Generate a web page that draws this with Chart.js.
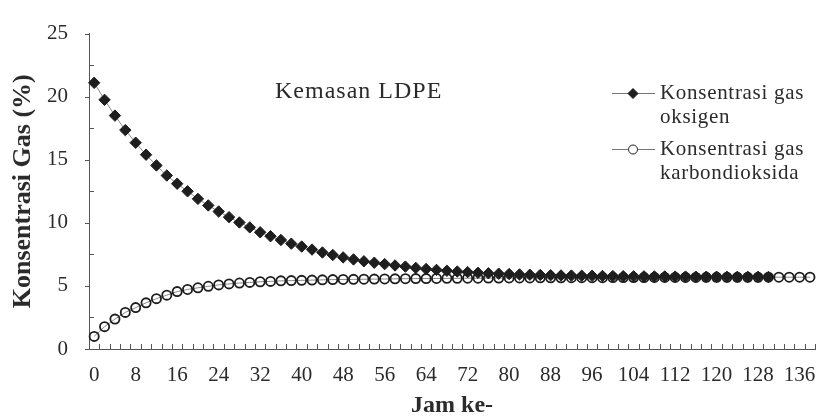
<!DOCTYPE html>
<html>
<head>
<meta charset="utf-8">
<script src="https://cdn.jsdelivr.net/npm/chart.js@4/dist/chart.umd.min.js"></script>
<style>
  html, body { margin: 0; padding: 0; background: #fff; }
  #wrap { width: 824px; height: 420px; }
</style>
</head>
<body>
<div id="wrap"><canvas id="c" width="824" height="420"></canvas></div>
<script>
// Hours of storage (category axis, every 2 hours)
const hours = [0, 2, 4, 6, 8, 10, 12, 14, 16, 18, 20, 22, 24, 26, 28, 30, 32, 34, 36, 38,
  40, 42, 44, 46, 48, 50, 52, 54, 56, 58, 60, 62, 64, 66, 68, 70, 72, 74, 76, 78,
  80, 82, 84, 86, 88, 90, 92, 94, 96, 98, 100, 102, 104, 106, 108, 110, 112, 114, 116, 118,
  120, 122, 124, 126, 128, 130, 132, 134, 136, 138];

// Oxygen concentration (%), 0–130 h
const oksigen = [21.1, 19.75, 18.5, 17.35, 16.35, 15.4, 14.55, 13.75, 13.1, 12.5,
  11.9, 11.38, 10.9, 10.45, 10.03, 9.64, 9.25, 8.94, 8.64, 8.35,
  8.12, 7.88, 7.65, 7.45, 7.26, 7.1, 6.95, 6.84, 6.73, 6.62,
  6.53, 6.43, 6.34, 6.27, 6.2, 6.14, 6.09, 6.04, 6.0, 5.97,
  5.94, 5.91, 5.89, 5.87, 5.85, 5.83, 5.82, 5.81, 5.8, 5.79,
  5.78, 5.77, 5.76, 5.76, 5.75, 5.75, 5.74, 5.74, 5.73, 5.73,
  5.73, 5.72, 5.72, 5.72, 5.72, 5.71];

// Carbon dioxide concentration (%), 0–138 h
const karbondioksida = [1.0, 1.77, 2.37, 2.9, 3.28, 3.66, 3.99, 4.27, 4.55, 4.72,
  4.85, 4.97, 5.08, 5.16, 5.23, 5.28, 5.33, 5.36, 5.4, 5.42,
  5.44, 5.46, 5.48, 5.5, 5.51, 5.52, 5.53, 5.54, 5.55, 5.56,
  5.57, 5.58, 5.58, 5.59, 5.6, 5.6, 5.61, 5.61, 5.62, 5.62,
  5.63, 5.63, 5.63, 5.64, 5.64, 5.64, 5.65, 5.65, 5.65, 5.65,
  5.66, 5.66, 5.66, 5.66, 5.67, 5.67, 5.67, 5.67, 5.67, 5.68,
  5.68, 5.68, 5.68, 5.68, 5.68, 5.69, 5.69, 5.69, 5.69, 5.69];

// Y axis range and steps
const yMin = 0, yMax = 25, yMinorStep = 2.5, yLabelStep = 5;
// Every 4th hour category carries a label
const xLabelEvery = 4;

const SERIF = "'Liberation Serif', 'Times New Roman', serif";
const TEXT = '#2b2b2b';
const AXIS = '#555';
const MARK = '#1e1e1e';

// Short tick marks: major y ticks point out, minor y ticks and x ticks point in
const tickMarks = {
  id: 'tickMarks',
  afterDraw(chart) {
    const { ctx, scales: { x, y } } = chart;
    ctx.save();
    ctx.strokeStyle = AXIS;
    ctx.lineWidth = 1;
    ctx.beginPath();
    for (let v = yMin; v <= yMax + 1e-9; v += yMinorStep) {
      const py = Math.round(y.getPixelForValue(v)) + 0.5;
      if (Math.abs(v % yLabelStep) < 1e-9) {
        ctx.moveTo(x.left - 4, py); ctx.lineTo(x.left, py);
      } else {
        ctx.moveTo(x.left, py); ctx.lineTo(x.left + 5, py);
      }
    }
    const n = hours.length;
    for (let i = 1; i <= n; i++) {
      const a = x.getPixelForValue(i - 1);
      const px = Math.round(i < n ? (a + x.getPixelForValue(i)) / 2 : x.right) + 0.5;
      ctx.moveTo(px, y.bottom); ctx.lineTo(px, y.bottom - 5);
    }
    ctx.stroke();
    ctx.restore();
  }
};

// White page, caption and legend inside the plot area
const notes = {
  id: 'notes',
  beforeDraw(chart) {
    const { ctx } = chart;
    ctx.save();
    ctx.fillStyle = '#fff';
    ctx.fillRect(0, 0, chart.width, chart.height);
    ctx.restore();
  },
  afterDraw(chart) {
    const { ctx } = chart;
    ctx.save();
    ctx.fillStyle = TEXT;
    ctx.textBaseline = 'alphabetic';
    ctx.textAlign = 'left';
    if ('letterSpacing' in ctx) ctx.letterSpacing = '1px';
    ctx.font = `24px ${SERIF}`;
    ctx.fillText('Kemasan LDPE', 275, 98);

    const entries = [
      { y: 93, lines: ['Konsentrasi gas', 'oksigen'], ds: 0 },
      { y: 149, lines: ['Konsentrasi gas', 'karbondioksida'], ds: 1 }
    ];
    entries.forEach(e => {
      const d = chart.data.datasets[e.ds];
      ctx.strokeStyle = '#777';
      ctx.lineWidth = 1;
      ctx.beginPath();
      ctx.moveTo(612, e.y + 0.5); ctx.lineTo(655, e.y + 0.5);
      ctx.stroke();
      ctx.fillStyle = e.ds === 0 ? MARK : '#fff';
      ctx.strokeStyle = MARK;
      Chart.helpers.drawPoint(ctx, {
        pointStyle: d.pointStyle, radius: e.ds === 0 ? 5 : 4.5,
        borderWidth: e.ds === 0 ? 1 : 1.3, rotation: 0
      }, 633, e.y + 0.5);
      ctx.fillStyle = TEXT;
      if ('letterSpacing' in ctx) ctx.letterSpacing = '0.7px';
      ctx.font = `21px ${SERIF}`;
      ctx.fillText(e.lines[0], 660, e.y + 6);
      ctx.fillText(e.lines[1], 660, e.y + 30);
    });
    ctx.restore();
  }
};

const ctx = document.getElementById('c').getContext('2d');
new Chart(ctx, {
  type: 'line',
  data: {
    labels: hours,
    datasets: [
      {
        label: 'Konsentrasi gas oksigen',
        data: oksigen,
        borderColor: '#8a8a8a',
        borderWidth: 1,
        pointStyle: 'rectRot',
        pointRadius: 5.7,
        pointBackgroundColor: MARK,
        pointBorderColor: MARK,
        pointBorderWidth: 1,
        tension: 0
      },
      {
        label: 'Konsentrasi gas karbondioksida',
        data: karbondioksida,
        borderColor: '#8a8a8a',
        borderWidth: 1,
        pointStyle: 'circle',
        pointRadius: 4.6,
        pointBackgroundColor: 'rgba(255,255,255,0)',
        pointBorderColor: MARK,
        pointBorderWidth: 1.8,
        tension: 0
      }
    ]
  },
  options: {
    responsive: false,
    animation: false,
    events: [],
    layout: { padding: { top: 19, right: 6, left: 0, bottom: 0 } },
    plugins: { legend: { display: false }, tooltip: { enabled: false } },
    scales: {
      x: {
        type: 'category',
        offset: true,
        grid: { display: false, drawTicks: false, offset: true },
        border: { display: true, color: AXIS, width: 1 },
        ticks: {
          autoSkip: false, maxRotation: 0, minRotation: 0, padding: 14,
          color: TEXT, font: { family: SERIF, size: 21 },
          callback: (v, i) => (i % xLabelEvery === 0 ? String(hours[i]) : '')
        },
        title: {
          display: true, text: 'Jam ke-', color: TEXT,
          font: { family: SERIF, size: 24, weight: 'bold' },
          padding: { top: 9, bottom: 0 }
        },
        afterFit: s => { s.height = 71; }
      },
      y: {
        min: yMin, max: yMax,
        grid: { display: false, drawTicks: false },
        border: { display: true, color: AXIS, width: 1 },
        ticks: {
          stepSize: yMinorStep, padding: 21, color: TEXT,
          font: { family: SERIF, size: 21 },
          callback: v => (Math.abs(v % yLabelStep) < 1e-9 ? String(v) : '')
        },
        title: {
          display: true, text: 'Konsentrasi Gas (%)', color: TEXT,
          font: { family: SERIF, size: 26, weight: 'bold' },
          padding: { top: 8, bottom: 0 }
        },
        afterFit: s => { s.width = 89; }
      }
    }
  },
  plugins: [notes, tickMarks]
});
</script>
</body>
</html>
